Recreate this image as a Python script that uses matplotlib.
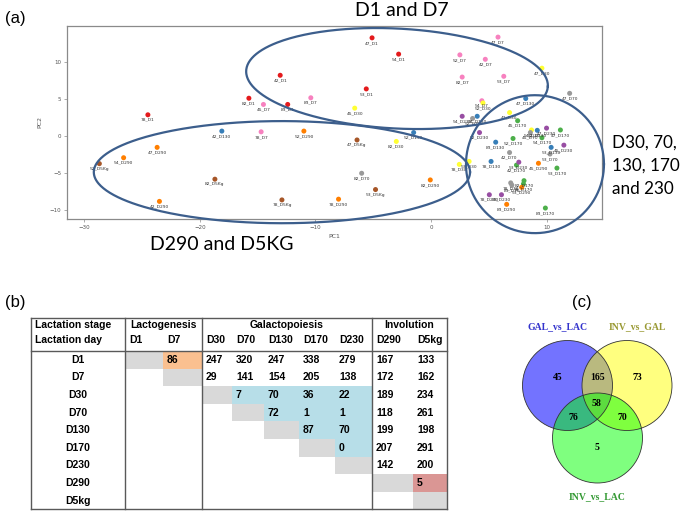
import matplotlib
matplotlib.use('Agg')
import matplotlib.pyplot as plt
import numpy as np
from matplotlib.patches import Rectangle, Circle

# ---------------- (a) PCA scores ----------------
pc_names = ["47_D1", "54_D1", "42_D1", "53_D1", "82_D1", "83_D1", "78_D1",
            "47_D7", "52_D7", "42_D7", "82_D7", "53_D7", "83_D7", "45_D7", "78_D7", "54_D7",
            "47_D30", "45_D30", "52_D30", "42_D30", "82_D30", "78_D30", "53_D30", "54_D30",
            "47_D70", "82_D70", "42_D70", "53_D70", "78_D70", "52_D70", "45_D70", "83_D70",
            "47_D130", "42_D130", "52_D130", "54_D130", "83_D130", "82_D130", "53_D130", "78_D130",
            "45_D170", "47_D170", "52_D170", "54_D170", "42_D170", "53_D170", "82_D170", "78_D170", "83_D170",
            "54_D230", "82_D230", "47_D230", "45_D230", "53_D230", "78_D230", "83_D230",
            "47_D290", "54_D290", "42_D290", "52_D290", "82_D290", "78_D290", "45_D290", "53_D290", "83_D290",
            "52_D5Kg", "82_D5Kg", "78_D5Kg", "47_D5Kg", "53_D5Kg"]
pc1 = [-5.1, -2.8, -13.05, -5.6, -15.76, -12.4, -24.5,
       5.8, 2.5, 4.7, 2.7, 6.3, -10.4, -14.5, -14.7, 4.4,
       9.6, -6.6, 4.5, 6.8, -3.0, 2.45, 3.3, 8.7,
       12.0, -6.0, 6.8, 10.3, 6.9, 3.6, 8.6, 7.0,
       8.2, -18.1, -1.5, 4.0, 5.6, 9.2, 10.4, 5.2,
       7.5, 11.2, 7.1, 9.6, 7.4, 10.9, 8.05, 8.0, 9.9,
       2.7, 4.2, 10.0, 11.5, 7.6, 5.05, 6.1,
       -23.7, -26.6, -23.5, -11.0, -0.06, -8.0, 9.3, 7.85, 6.55,
       -28.7, -18.7, -12.9, -6.4, -4.8]
pc2 = [13.3, 11.1, 8.24, 6.4, 5.14, 4.3, 2.9,
       13.4, 11.0, 10.4, 8.0, 8.1, 5.2, 4.3, 0.6, 4.8,
       9.2, 3.8, 4.5, 3.2, -0.7, -3.8, -3.4, 0.85,
       5.8, -5.0, -2.2, -2.4, -6.3, 2.4, 0.5, -6.6,
       5.1, 0.7, 0.5, 2.7, -0.8, 0.8, -1.5, -3.4,
       2.1, 0.85, -0.3, -0.2, -3.9, -4.3, -6.0, -6.45, -9.7,
       2.7, 0.5, 1.1, -1.2, -3.5, -7.9, -7.9,
       -1.5, -2.9, -8.8, 0.7, -5.9, -8.5, -3.65, -6.9, -9.2,
       -3.7, -5.8, -8.6, -0.5, -7.2]
pc_x_ticks = [-30, -20, -10, 0, 10]
pc_y_ticks = [-10, -5, 0, 5, 10]
group_colors = {"D1": "#E41A1C", "D7": "#F781BF", "D30": "#FFFF33", "D70": "#999999",
                "D130": "#377EB8", "D170": "#4DAF4A", "D230": "#984EA3",
                "D290": "#FF7F00", "D5Kg": "#A65628"}

# ---------------- (b) DEG table ----------------
stages = ["Lactogenesis", "Galactopoiesis", "Involution"]
stage_span = [(0, 2), (2, 7), (7, 9)]
days = ["D1", "D7", "D30", "D70", "D130", "D170", "D230", "D290", "D5kg"]
deg_counts = [
    ["", "86", "247", "320", "247", "338", "279", "167", "133"],
    ["", "", "29", "141", "154", "205", "138", "172", "162"],
    ["", "", "", "7", "70", "36", "22", "189", "234"],
    ["", "", "", "", "72", "1", "1", "118", "261"],
    ["", "", "", "", "", "87", "70", "199", "198"],
    ["", "", "", "", "", "", "0", "207", "291"],
    ["", "", "", "", "", "", "", "142", "200"],
    ["", "", "", "", "", "", "", "", "5"],
    ["", "", "", "", "", "", "", "", ""],
]

# ---------------- (c) Venn ----------------
venn_sets = ["GAL_vs_LAC", "INV_vs_GAL", "INV_vs_LAC"]
venn_only = [45, 73, 5]
venn_ab, venn_ac, venn_bc, venn_abc = 165, 76, 70, 58

fig = plt.figure(figsize=(6.85, 5.12), dpi=100)
ov = fig.add_axes([0, 0, 1, 1])
ov.set_xlim(0, 685)
ov.set_ylim(512, 0)
ov.axis('off')

BIG = ['Lato', 'DejaVu Sans']
SANS = ['Liberation Sans', 'DejaVu Sans']
SERIF = ['Liberation Serif', 'DejaVu Serif']

# panel letters
ov.text(5, 18, "(a)", fontsize=12, family=SANS, va='center', ha='left')
ov.text(5, 302, "(b)", fontsize=12, family=SANS, va='center', ha='left')
ov.text(572, 302, "(c)", fontsize=12, family=SANS, va='center', ha='left')

# big annotations
ov.text(402, 11, "D1 and D7", fontsize=14, family=BIG, ha='center', va='center')
ov.text(222, 245, "D290 and D5KG", fontsize=14, family=BIG, ha='center', va='center')
for i, line in enumerate(["D30, 70,", "130, 170", "and 230"]):
    ov.text(612, 143 + 23 * i, line, fontsize=12.3, family=BIG, ha='left', va='center')

# ---------- scatter axes ----------
L, R, T, B = 67, 602, 26, 219
ax = fig.add_axes([L / 685, 1 - B / 512, (R - L) / 685, (B - T) / 512])
ax.set_xlim(-31.5, 14.8)
ax.set_ylim(-11.18, 14.9)
cols = [group_colors[n.split('_')[1]] for n in pc_names]
ax.scatter(pc1, pc2, s=13, c=cols, edgecolors='none', zorder=3)
for n, x, y in zip(pc_names, pc1, pc2):
    ax.annotate(n, (x, y), xytext=(0, -2.2), textcoords='offset points',
                ha='center', va='top', fontsize=3.2, color='#333333', zorder=4)
for s in ax.spines.values():
    s.set_color('#8a8a8a')
    s.set_linewidth(0.9)
ax.set_xticks(pc_x_ticks)
ax.set_yticks(pc_y_ticks)
ax.tick_params(length=2, width=0.5, color='#8a8a8a', labelsize=4, labelcolor='#555555', pad=2)
ax.set_xlabel("PC1", fontsize=4.5, color='#555555', labelpad=3)
ax.set_ylabel("PC2", fontsize=4.5, color='#555555', labelpad=5)

sx = (R - L) / (14.8 + 31.5)
sy = (B - T) / (14.9 + 11.18)
ellipses = [(-2.94, 7.8, 13.07, 6.75, -3.0),
            (-12.9, -4.85, 16.28, 6.9, 0.0),
            (9.0, -3.77, 5.97, 9.32, 0.0)]
t = np.linspace(0, 2 * np.pi, 400)
for cx, cy, a, b, ang in ellipses:
    th = np.deg2rad(ang)
    dxp = a * sx * np.cos(t) * np.cos(th) - b * sy * np.sin(t) * np.sin(th)
    dyp = a * sx * np.cos(t) * np.sin(th) + b * sy * np.sin(t) * np.cos(th)
    ax.plot(cx + dxp / sx, cy + dyp / sy, color='#3C5E8C', lw=1.6, zorder=5, clip_on=False)

# ---------- table ----------
col_edges = [31, 125, 163, 202, 232, 264, 299, 335, 372, 413, 447]
top, head_bot, row_h = 318, 351, 17.6
blue_cells = {(2, 3), (2, 4), (2, 5), (2, 6), (3, 4), (3, 5), (3, 6), (4, 5), (4, 6), (5, 6)}
for r in range(len(days)):
    for c in range(len(days)):
        x0 = col_edges[c + 1]
        w = col_edges[c + 2] - x0
        y0 = head_bot + r * row_h
        fc = None
        if r == c:
            fc = '#D9D9D9'
        elif (r, c) == (0, 1):
            fc = '#FAC090'
        elif (r, c) == (7, 8):
            fc = '#DA9694'
        elif (r, c) in blue_cells:
            fc = '#B7DEE8'
        if fc:
            ov.add_patch(Rectangle((x0, y0), w, row_h, facecolor=fc, edgecolor='none', zorder=1))
        val = deg_counts[r][c]
        if val:
            ov.text(x0 + 4, y0 + row_h / 2, val, fontsize=7.5, family=SANS, weight='bold',
                    ha='left', va='center', zorder=3)
    ov.text(78, head_bot + (r + 0.5) * row_h, days[r], fontsize=7.5, family=SANS,
            weight='bold', ha='center', va='center', zorder=3)

ov.text(35, 325, "Lactation stage", fontsize=7.5, family=SANS, weight='bold', va='center', ha='left')
ov.text(35, 340, "Lactation day", fontsize=7.5, family=SANS, weight='bold', va='center', ha='left')
for name, (c0, c1) in zip(stages, stage_span):
    xc = (col_edges[c0 + 1] + col_edges[c1 + 1]) / 2
    ov.text(xc, 325, name, fontsize=7.5, family=SANS, weight='bold', ha='center', va='center')
for c, d in enumerate(days):
    ov.text(col_edges[c + 1] + 4, 340, d, fontsize=7.5, family=SANS, weight='bold',
            ha='left', va='center')

bottom = head_bot + len(days) * row_h
lc = '#595959'
ov.plot([col_edges[0], col_edges[-1]], [top, top], color=lc, lw=1, zorder=4)
ov.plot([col_edges[0], col_edges[-1]], [head_bot, head_bot], color=lc, lw=1, zorder=4)
ov.plot([col_edges[0], col_edges[-1]], [bottom, bottom], color=lc, lw=1, zorder=4)
for xv in [col_edges[0], col_edges[1], col_edges[3], col_edges[8], col_edges[10]]:
    ov.plot([xv, xv], [top, bottom], color=lc, lw=1, zorder=4)

# ---------- venn ----------
centers = [(567.5, 385.5), (627, 385.5), (597.5, 438)]
fills = [('#0000FF', 0.55), ('#FFFF00', 0.5), ('#00FF00', 0.5)]
for (cx, cy), (fc, al) in zip(centers, fills):
    ov.add_patch(Circle((cx, cy), 45, facecolor=fc, alpha=al, edgecolor='none', zorder=2))
for (cx, cy) in centers:
    ov.add_patch(Circle((cx, cy), 45, facecolor='none', edgecolor='#333333', lw=0.6, zorder=3))
label_cols = ['#3333CC', '#999933', '#339933']
label_pos = [(558, 327), (637, 327), (597, 497)]
for name, (lx, ly), lcol in zip(venn_sets, label_pos, label_cols):
    ov.text(lx, ly, name, fontsize=7, family=SERIF, weight='bold', color=lcol,
            ha='center', va='center')
num_pos = [(558, 377), (637, 377), (597, 447)]
for v, (nx, ny) in zip(venn_only, num_pos):
    ov.text(nx, ny, str(v), fontsize=7, family=SERIF, weight='bold', ha='center', va='center', zorder=5)
for v, (nx, ny) in zip([venn_ab, venn_ac, venn_bc, venn_abc],
                       [(598, 377), (573, 417), (622, 417), (597, 403)]):
    ov.text(nx, ny, str(v), fontsize=7, family=SERIF, weight='bold', ha='center', va='center', zorder=5)

fig.savefig('out.png', dpi=100)
